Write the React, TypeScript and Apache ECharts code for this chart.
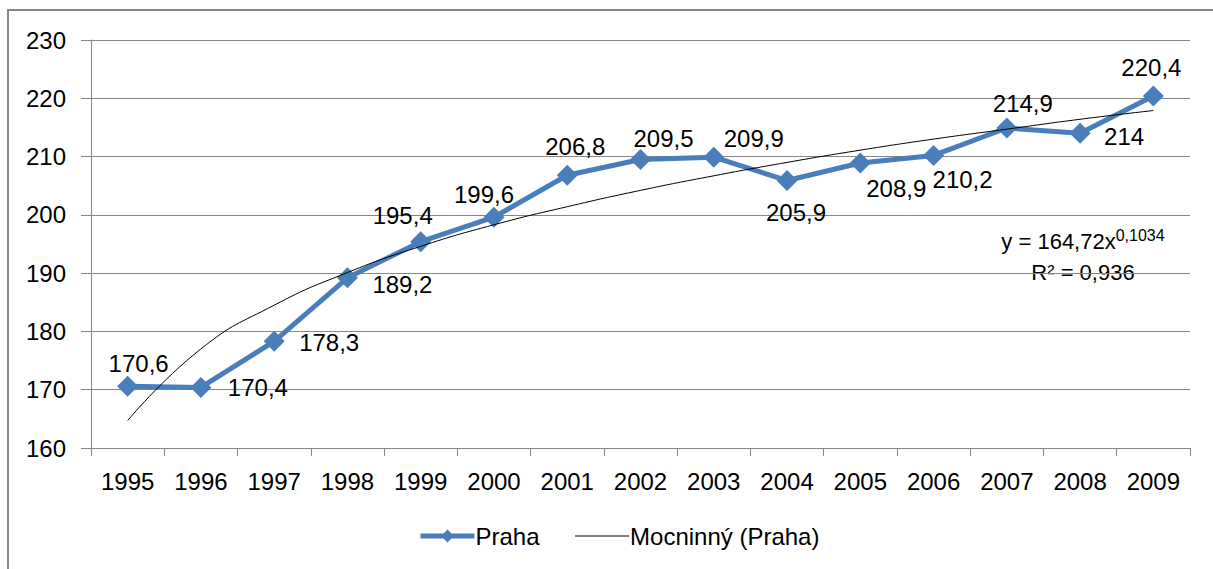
import React, { useEffect, useRef } from "react";
import * as echarts from "echarts";

const years = ["1995", "1996", "1997", "1998", "1999", "2000", "2001", "2002", "2003", "2004", "2005", "2006", "2007", "2008", "2009"];
const praha = [170.6, 170.4, 178.3, 189.2, 195.4, 199.6, 206.8, 209.5, 209.9, 205.9, 208.9, 210.2, 214.9, 214, 220.4];
const trend = [164.7, 177.0, 184.5, 190.1, 194.6, 198.3, 201.4, 204.2, 206.7, 209.0, 211.1, 213.0, 214.7, 216.4, 217.9];
const labelOffsets: [number, number][] = [
  [11, -23], [57, 0], [55, 1], [55, 7], [-18, -26], [-10, -23], [8, -29], [23, -21],
  [40, -19], [9, 32], [36, 26], [29, 24], [16, -25], [44, 3], [-2, -28],
];

const FONT = "Liberation Sans";
const GRAY = "#868686";
const BLUE = "#4A7EBB";

export default function App() {
  const ref = useRef<HTMLDivElement>(null);
  useEffect(() => {
    if (!ref.current) return;
    const chart = echarts.init(ref.current, null, { renderer: "svg" });
    chart.setOption({
      animation: false,
      backgroundColor: "#fff",
      textStyle: { fontFamily: FONT },
      grid: { left: 91, right: 23, top: 40, bottom: 121 },
      graphic: [
        {
          type: "rect",
          z: -10,
          shape: { x: 8, y: 10, width: 1400, height: 800 },
          style: { fill: "none", stroke: GRAY, lineWidth: 2 },
        },
        {
          type: "text",
          x: 1083,
          y: 241,
          style: {
            text: "{a|y = 164,72x}{b|0,1034}",
            align: "center",
            verticalAlign: "middle",
            rich: {
              a: { fontSize: 22, fontFamily: FONT, fill: "#000", lineHeight: 26 },
              b: { fontSize: 16, fontFamily: FONT, fill: "#000", padding: [0, 0, 12, 0], lineHeight: 26 },
            },
          },
        },
        {
          type: "text",
          x: 1083,
          y: 272,
          style: {
            text: "R² = 0,936",
            align: "center",
            verticalAlign: "middle",
            fontSize: 22,
            fontFamily: FONT,
            fill: "#000",
          },
        },
      ],
      legend: {
        left: 413,
        top: 519,
        itemWidth: 54,
        itemHeight: 16,
        itemGap: 35,
        textStyle: { fontSize: 24, color: "#000", fontFamily: FONT, padding: [0, 0, 0, -4] },
        data: [
          { name: "Praha", lineStyle: { width: 5 } },
          { name: "Mocninný (Praha)", itemStyle: { opacity: 0 }, lineStyle: { width: 1 } },
        ],
      },
      xAxis: {
        type: "category",
        data: years,
        boundaryGap: true,
        axisLine: { lineStyle: { color: GRAY, width: 1 } },
        axisTick: { show: true, length: 8, lineStyle: { color: GRAY } },
        axisLabel: { fontSize: 24, color: "#000", margin: 21, fontFamily: FONT },
        splitLine: { show: false },
      },
      yAxis: {
        type: "value",
        min: 160,
        max: 230,
        interval: 10,
        axisLine: { show: true, lineStyle: { color: GRAY, width: 1 } },
        axisTick: { show: true, length: 10, lineStyle: { color: GRAY } },
        axisLabel: { fontSize: 24, color: "#000", margin: 25, fontFamily: FONT },
        splitLine: { show: true, lineStyle: { color: GRAY, width: 1 } },
      },
      series: [
        {
          name: "Praha",
          type: "line",
          z: 2,
          data: praha.map((v, i) => ({
            value: v,
            label: { offset: labelOffsets[i] },
          })),
          symbol: "diamond",
          symbolSize: 21,
          lineStyle: { color: BLUE, width: 5 },
          itemStyle: { color: BLUE },
          label: {
            show: true,
            position: "inside",
            align: "center",
            verticalAlign: "middle",
            fontSize: 24,
            color: "#000",
            fontFamily: FONT,
            formatter: (p: any) => String(p.value).replace(".", ","),
          },
        },
        {
          name: "Mocninný (Praha)",
          type: "line",
          z: 3,
          data: trend,
          symbol: "none",
          smooth: 0.5,
          lineStyle: { color: "#000", width: 1 },
          itemStyle: { color: "#000" },
        },
      ],
    });
    return () => chart.dispose();
  }, []);
  return (
    <div
      ref={ref}
      style={{ position: "absolute", left: 0, top: 0, width: 1213, height: 569 }}
    />
  );
}
